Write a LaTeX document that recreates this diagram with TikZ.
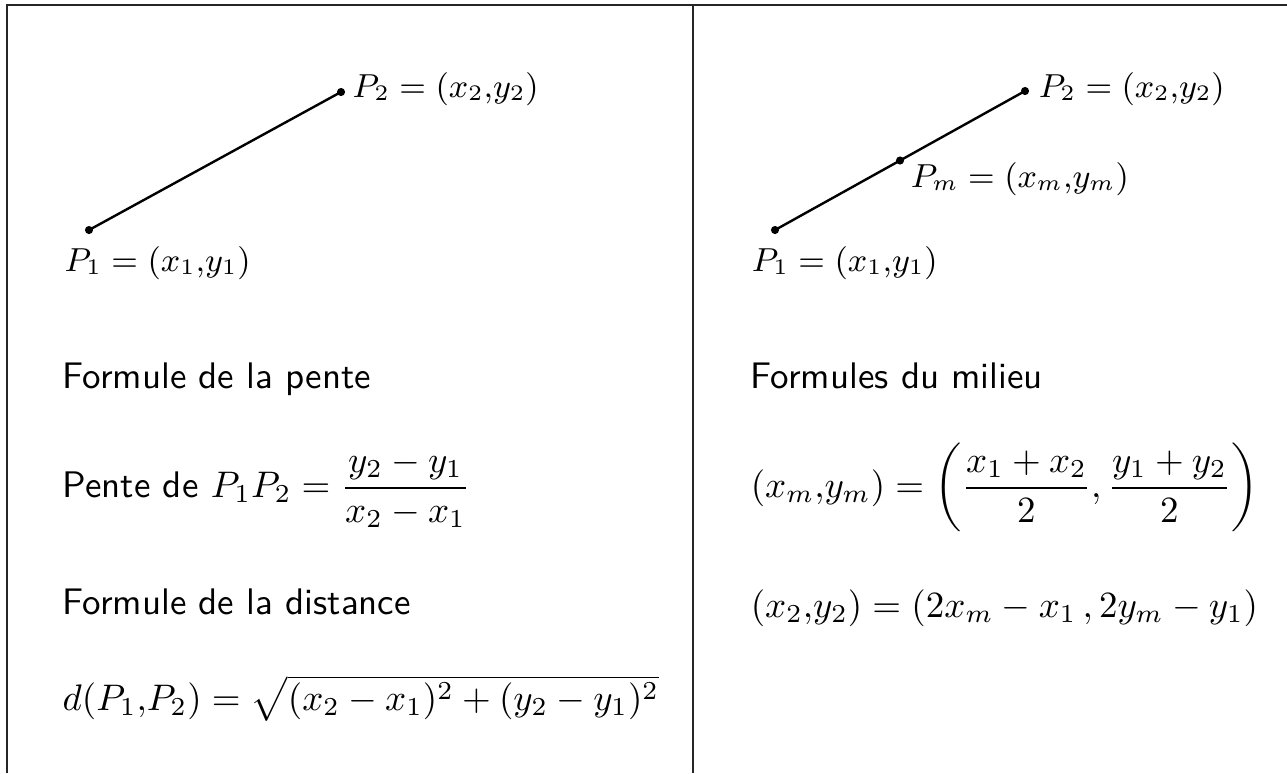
\documentclass[tikz,border=0pt]{standalone}
\usepackage{amsmath}
\begin{document}
\begin{tikzpicture}[x=0.0095cm,y=-0.0095cm,
  frame/.style={draw=black!85,line width=0.55pt},
  seg/.style={line width=0.65pt},
  pt/.style={fill=black},
  lbl/.style={inner sep=0pt,anchor=base west,font=\small},
  eq/.style={inner sep=0pt,anchor=base west},
  txt/.style={inner sep=0pt,anchor=base west,font=\sffamily}]
\useasboundingbox (0,0) rectangle (1287,773);
% frame
\coordinate (tl) at (7,5);
\coordinate (tr) at (1287,5);
\coordinate (bl) at (7,773);
\coordinate (tm) at (693,5);
\coordinate (bm) at (693,773);
\draw[frame] (bl) -- (tl) -- (tr);
\draw[frame] (tm) -- (bm);
% left cell
\coordinate (A1) at (89,230);
\coordinate (A2) at (341,92);
\draw[seg] (A1) -- (A2);
\fill[pt] (A1) circle (1.1pt);
\fill[pt] (A2) circle (1.1pt);
\node[lbl] (LA2) at (352,97) {$P_2 = (x_2{,}y_2)$};
\node[lbl] (LA1) at (64,271) {$P_1 = (x_1{,}y_1)$};
\node[txt] (T1) at (62,388) {Formule de la pente};
\node[txt] (F1) at (62,497) {Pente de $P_1P_2 = \dfrac{y_2-y_1}{x_2-x_1}$};
\node[txt] (T2) at (62,614) {Formule de la distance};
\node[eq] (F2) at (62,710) {$d(P_1{,}P_2) = \sqrt{(x_2-x_1)^2+(y_2-y_1)^2}$};
% right cell
\coordinate (B1) at (775,230);
\coordinate (Bm) at (900,160.5);
\coordinate (B2) at (1025,91);
\draw[seg] (B1) -- (B2);
\fill[pt] (B1) circle (1.1pt);
\fill[pt] (Bm) circle (1.1pt);
\fill[pt] (B2) circle (1.1pt);
\node[lbl] (LB2) at (1038,97) {$P_2 = (x_2{,}y_2)$};
\node[lbl] (LBm) at (910,187) {$P_m = (x_m{,}y_m)$};
\node[lbl] (LB1) at (751,271) {$P_1 = (x_1{,}y_1)$};
\node[txt] (T3) at (750,388) {Formules du milieu};
\node[eq] (F3) at (750,497) {$(x_m{,}y_m) = \left(\dfrac{x_1+x_2}{2},\dfrac{y_1+y_2}{2}\right)$};
\node[eq] (F4) at (750,617) {$(x_2{,}y_2) = (2x_m-x_1\,,2y_m-y_1)$};
\end{tikzpicture}
\end{document}
